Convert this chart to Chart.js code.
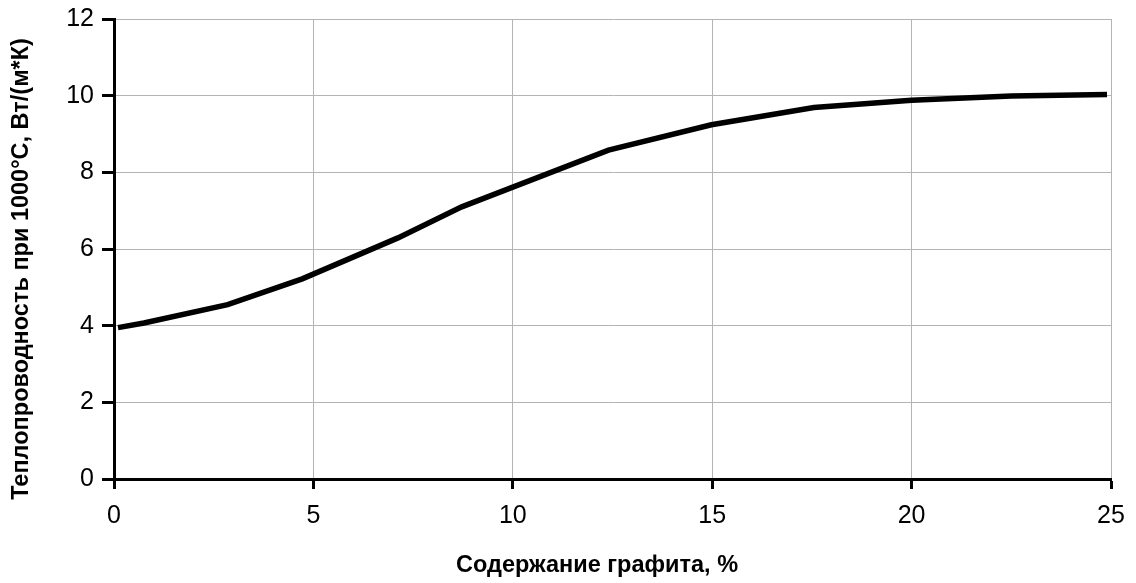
<!DOCTYPE html>
<html>
<head>
<meta charset="utf-8">
<script src="https://cdn.jsdelivr.net/npm/chart.js@4"></script>
<style>
  html, body { margin: 0; padding: 0; background: #fff; }
  #wrap { width: 1136px; height: 583px; position: relative; }
</style>
</head>
<body>
<div id="wrap"><canvas id="c"></canvas></div>
<script>
// Graphite content, % (x) and thermal conductivity at 1000 °C, W/(m*K) (y)
const graphiteContent = [0.1, 0.75, 2.85, 4.72, 7.12, 8.72, 12.4, 14.98, 17.55, 20.0, 22.5, 24.9];
const conductivity    = [3.95, 4.07, 4.55, 5.22, 6.29, 7.10, 8.58, 9.24, 9.69, 9.88, 9.99, 10.03];

const xTitle = 'Содержание графита, %';
const yTitle = 'Теплопроводность при 1000°С, Вт/(м*К)';

const FONT = "'Liberation Sans', Arial, sans-serif";

// Axis titles placed with a small plugin so their position can be set exactly
const axisTitles = {
  id: 'axisTitles',
  afterDraw(chart) {
    const ctx = chart.ctx;
    ctx.save();
    ctx.fillStyle = '#000';
    ctx.font = 'bold 23.5px ' + FONT;
    ctx.textAlign = 'center';
    ctx.textBaseline = 'middle';
    ctx.fillText(xTitle, 597, 566);
    ctx.translate(22, 269);
    ctx.rotate(-Math.PI / 2);
    ctx.fillText(yTitle, 0, 0);
    ctx.restore();
  }
};

new Chart(document.getElementById('c'), {
  type: 'line',
  data: {
    datasets: [{
      data: graphiteContent.map((x, i) => ({ x, y: conductivity[i] })),
      borderColor: '#000',
      borderWidth: 5.5,
      pointRadius: 0,
      tension: 0,
      fill: false
    }]
  },
  options: {
    responsive: true,
    maintainAspectRatio: false,
    animation: false,
    layout: { padding: { top: 19, right: 25, left: 0, bottom: 0 } },
    plugins: { legend: { display: false }, tooltip: { enabled: false } },
    scales: {
      x: {
        type: 'linear',
        min: 0, max: 25,
        ticks: { stepSize: 5, color: '#000', font: { family: FONT, size: 25 }, padding: 12, maxRotation: 0 },
        grid: { color: '#b4b4b4', lineWidth: 1, tickColor: '#000', tickWidth: 3, tickLength: 10 },
        border: { color: '#000', width: 3 },
        afterFit(scale) { scale.height = 104; scale.paddingLeft = 0; scale.paddingRight = 0; }
      },
      y: {
        min: 0, max: 12,
        ticks: { stepSize: 2, color: '#000', font: { family: FONT, size: 25 }, padding: 8 },
        grid: { color: '#b4b4b4', lineWidth: 1, tickColor: '#000', tickWidth: 3, tickLength: 12 },
        border: { color: '#000', width: 3 },
        afterFit(scale) { scale.width = 114; scale.paddingTop = 0; scale.paddingBottom = 0; }
      }
    }
  },
  plugins: [axisTitles]
});
</script>
</body>
</html>
